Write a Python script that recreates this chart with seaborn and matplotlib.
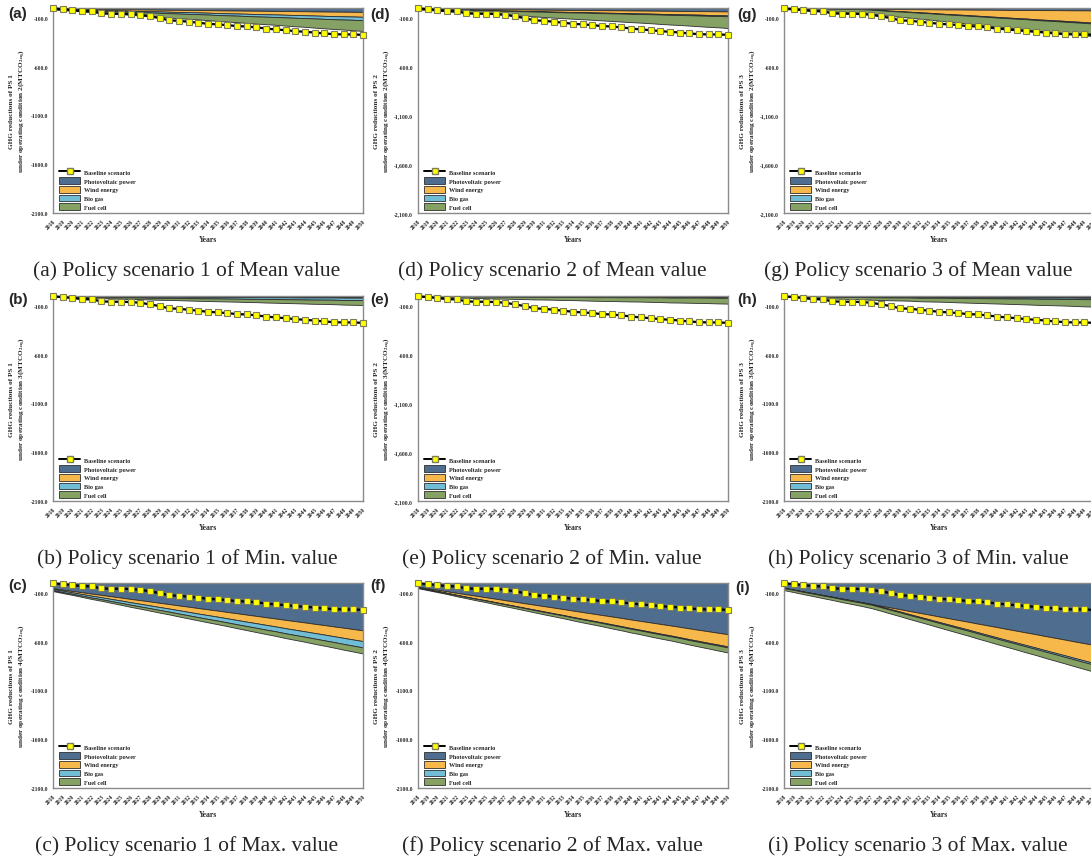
import numpy as np
import matplotlib
matplotlib.use("Agg")
import matplotlib.pyplot as plt
import seaborn as sns
from matplotlib.lines import Line2D
from matplotlib.patches import Patch

# Years on the x axis
years = list(range(2018, 2051))

# Baseline scenario (same in every panel)
baseline = [-3, -11, -21, -32, -35, -55, -59, -59, -62, -69, -86, -103, -127, -131, -141, -151, -162,
            -168, -175, -186, -189, -199, -210, -220, -227, -237, -244, -251, -261, -268, -271, -271, -275]

# (a) PS1 mean, condition 2
a_pv = [5, 6, 7, 8, 9, 10, 12, 13, 14, 15, 16, 17, 18, 19, 20, 21, 22, 24, 25, 26, 27, 28, 29, 30, 31, 32, 33, 35, 36, 37, 38, 39, 40]
a_wind = [2, 4, 5, 6, 8, 10, 11, 12, 14, 16, 17, 18, 20, 22, 23, 24, 26, 28, 29, 30, 32, 34, 35, 36, 38, 40, 41, 42, 44, 46, 47, 48, 50]
a_bio = [3, 4, 5, 6, 7, 8, 9, 10, 11, 12, 13, 14, 15, 16, 17, 18, 19, 20, 21, 22, 23, 24, 25, 26, 27, 28, 29, 30, 31, 32, 33, 34, 35]
a_fuel = [5, 8, 12, 15, 18, 21, 25, 28, 31, 35, 38, 41, 44, 48, 51, 54, 57, 61, 64, 67, 71, 74, 77, 80, 84, 87, 90, 94, 97, 100, 103, 107, 110]

# (b) PS1 min, condition 3
b_pv = [2, 2, 3, 3, 3, 3, 4, 4, 4, 4, 5, 5, 5, 5, 6, 6, 6, 6, 7, 7, 7, 7, 8, 8, 8, 8, 9, 9, 9, 9, 10, 10, 10]
b_wind = [1, 1, 1, 1, 1, 2, 2, 2, 2, 2, 3, 3, 3, 3, 3, 4, 4, 4, 4, 4, 5, 5, 5, 5, 5, 6, 6, 6, 6, 6, 7, 7, 7]
b_bio = [3, 4, 4, 5, 6, 6, 7, 8, 9, 9, 10, 11, 11, 12, 13, 13, 14, 15, 15, 16, 17, 17, 18, 19, 20, 20, 21, 22, 22, 23, 24, 24, 25]
b_fuel = [4, 5, 7, 8, 10, 11, 13, 14, 16, 17, 18, 20, 21, 23, 24, 26, 27, 29, 30, 31, 33, 34, 36, 37, 39, 40, 41, 43, 44, 46, 47, 49, 50]

# (c) PS1 max, condition 4
c_pv = [55, 68, 82, 95, 109, 122, 136, 149, 163, 176, 189, 203, 216, 230, 243, 257, 270, 283, 297, 310, 324, 337, 351, 364, 378, 391, 404, 418, 431, 445, 458, 472, 485]
c_wind = [8, 11, 14, 18, 21, 24, 27, 30, 34, 37, 40, 43, 46, 49, 53, 56, 59, 62, 65, 69, 72, 75, 78, 81, 85, 88, 91, 94, 97, 100, 104, 107, 110]
c_bio = [12, 14, 15, 17, 19, 20, 22, 24, 25, 27, 29, 30, 32, 34, 35, 37, 39, 40, 42, 44, 45, 47, 49, 50, 52, 54, 55, 57, 59, 60, 62, 63, 65]
c_fuel = [8, 10, 11, 13, 15, 16, 18, 20, 22, 23, 25, 27, 28, 30, 32, 33, 35, 37, 38, 40, 42, 44, 45, 47, 49, 50, 52, 54, 55, 57, 59, 60, 62]

# (d) PS2 mean, condition 2
d_pv = [4, 5, 6, 7, 8, 9, 10, 11, 12, 13, 14, 15, 16, 17, 18, 19, 20, 20, 21, 22, 23, 24, 25, 26, 27, 28, 29, 30, 31, 32, 33, 34, 35]
d_wind = [2, 3, 4, 6, 7, 8, 9, 10, 12, 13, 14, 15, 16, 17, 19, 20, 21, 22, 23, 25, 26, 27, 28, 29, 30, 32, 33, 34, 35, 36, 38, 39, 40]
d_bio = [1, 1, 2, 2, 2, 2, 3, 3, 3, 3, 4, 4, 4, 4, 5, 5, 5, 5, 6, 6, 6, 6, 7, 7, 7, 7, 8, 8, 8, 9, 9, 9, 10]
d_fuel = [8, 12, 15, 18, 22, 26, 29, 32, 36, 40, 43, 46, 50, 54, 57, 60, 64, 68, 71, 74, 78, 82, 85, 88, 92, 96, 99, 102, 106, 110, 113, 116, 120]

# (e) PS2 min, condition 3
e_pv = [2, 2, 2, 2, 2, 3, 3, 3, 3, 3, 4, 4, 4, 4, 4, 5, 5, 5, 5, 5, 5, 6, 6, 6, 6, 6, 7, 7, 7, 7, 7, 8, 8]
e_wind = [1, 1, 1, 1, 1, 1, 2, 2, 2, 2, 2, 2, 3, 3, 3, 3, 3, 3, 4, 4, 4, 4, 4, 4, 5, 5, 5, 5, 5, 5, 6, 6, 6]
e_bio = [1, 1, 1, 1, 1, 1, 1, 1, 2, 2, 2, 2, 2, 2, 2, 2, 2, 3, 3, 3, 3, 3, 3, 3, 3, 3, 4, 4, 4, 4, 4, 4, 4]
e_fuel = [5, 7, 8, 10, 12, 14, 15, 17, 19, 20, 22, 24, 26, 27, 29, 31, 32, 34, 36, 38, 39, 41, 43, 44, 46, 48, 50, 51, 53, 55, 56, 58, 60]

# (f) PS2 max, condition 4
f_pv = [40, 55, 70, 85, 101, 116, 131, 146, 161, 176, 192, 207, 222, 237, 252, 267, 283, 298, 313, 328, 343, 358, 374, 389, 404, 419, 434, 449, 465, 480, 495, 510, 525]
f_wind = [5, 9, 12, 16, 20, 24, 28, 31, 35, 39, 42, 46, 50, 54, 58, 61, 65, 69, 72, 76, 80, 84, 88, 91, 95, 99, 102, 106, 110, 114, 118, 121, 125]
f_bio = [2, 2, 2, 2, 3, 3, 3, 3, 4, 4, 4, 4, 5, 5, 5, 5, 6, 6, 6, 6, 7, 7, 7, 7, 8, 8, 8, 8, 9, 9, 9, 10, 10]
f_fuel = [6, 7, 9, 10, 12, 13, 15, 16, 18, 19, 20, 22, 23, 25, 26, 28, 29, 31, 32, 33, 35, 36, 38, 39, 41, 42, 43, 45, 46, 48, 49, 51, 52]

# (g) PS3 mean, condition 2
g_pv = [3, 4, 4, 5, 6, 6, 7, 8, 9, 9, 10, 11, 11, 12, 13, 13, 14, 15, 15, 16, 17, 17, 18, 19, 20, 20, 21, 22, 22, 23, 24, 24, 25]
g_wind = [0, 0, 0, 0, 0, 0, 0, 0, 0, 5, 10, 16, 21, 26, 31, 36, 42, 47, 52, 57, 62, 68, 73, 78, 83, 88, 94, 99, 104, 109, 114, 120, 125]
g_bio = [1, 1, 2, 2, 2, 2, 3, 3, 3, 3, 4, 4, 4, 4, 5, 5, 5, 5, 6, 6, 6, 6, 7, 7, 7, 7, 8, 8, 8, 9, 9, 9, 10]
g_fuel = [8, 12, 16, 19, 23, 27, 31, 35, 38, 42, 46, 50, 54, 57, 61, 65, 69, 73, 76, 80, 84, 88, 92, 95, 99, 103, 107, 111, 114, 118, 122, 126, 130]

# (h) PS3 min, condition 3
h_pv = [2, 2, 3, 3, 3, 3, 4, 4, 4, 4, 5, 5, 5, 5, 6, 6, 6, 6, 7, 7, 7, 7, 8, 8, 8, 8, 9, 9, 9, 9, 10, 10, 10]
h_wind = [1, 1, 1, 1, 1, 2, 2, 2, 2, 3, 3, 3, 3, 3, 4, 4, 4, 4, 5, 5, 5, 5, 5, 6, 6, 6, 6, 7, 7, 7, 7, 8, 8]
h_bio = [2, 2, 3, 3, 4, 4, 4, 5, 5, 6, 6, 7, 7, 7, 8, 8, 8, 9, 9, 10, 10, 11, 11, 11, 12, 12, 13, 13, 13, 14, 14, 15, 15]
h_fuel = [5, 7, 9, 12, 14, 16, 18, 20, 22, 25, 27, 29, 31, 33, 36, 38, 40, 42, 44, 46, 49, 51, 53, 55, 57, 60, 62, 64, 66, 68, 71, 73, 75]

# (i) PS3 max, condition 4
i_pv = [50, 68, 87, 105, 123, 141, 160, 178, 196, 215, 233, 251, 269, 288, 306, 324, 343, 361, 379, 397, 416, 434, 452, 471, 489, 507, 525, 544, 562, 580, 599, 617, 635]
i_wind = [0, 0, 0, 0, 0, 0, 0, 0, 0, 0, 8, 16, 24, 32, 40, 48, 56, 64, 72, 80, 88, 97, 105, 113, 121, 129, 137, 145, 153, 161, 169, 177, 185]
i_bio = [3, 3, 4, 4, 5, 5, 6, 6, 6, 7, 7, 8, 8, 9, 9, 10, 10, 10, 11, 11, 12, 12, 13, 13, 13, 14, 14, 15, 15, 16, 16, 17, 17]
i_fuel = [20, 22, 23, 25, 27, 28, 30, 31, 33, 35, 36, 38, 40, 41, 43, 44, 46, 48, 49, 51, 53, 54, 56, 57, 59, 61, 62, 64, 66, 67, 69, 70, 72]

tech_names = ["Photovoltaic power", "Wind energy", "Bio gas", "Fuel cell"]
tech_colors = ["#4f6d8f", "#f7b84b", "#72bdd6", "#85a164"]
edge = "#2e2e2e"

yticks = [-100, -600, -1100, -1600, -2100]
plain_labels = ["-100.0", "-600.0", "-1100.0", "-1600.0", "-2100.0"]
comma_labels = ["-100.0", "-600.0", "-1,100.0", "-1,600.0", "-2,100.0"]

panels = {
    "a": (a_pv, a_wind, a_bio, a_fuel),
    "b": (b_pv, b_wind, b_bio, b_fuel),
    "c": (c_pv, c_wind, c_bio, c_fuel),
    "d": (d_pv, d_wind, d_bio, d_fuel),
    "e": (e_pv, e_wind, e_bio, e_fuel),
    "f": (f_pv, f_wind, f_bio, f_fuel),
    "g": (g_pv, g_wind, g_bio, g_fuel),
    "h": (h_pv, h_wind, h_bio, h_fuel),
    "i": (i_pv, i_wind, i_bio, i_fuel),
}
stat_names = ["Mean", "Min.", "Max."]
comma_panels = ["d", "e", "g"]

sns.set_style("white")
plt.rcParams["font.family"] = ["Liberation Serif", "DejaVu Serif"]
plt.rcParams["mathtext.fontset"] = "stix"

W, H = 1091, 862
fig = plt.figure(figsize=(W / 100, H / 100), dpi=100)

col_left = [53, 418, 784]
row_top = [9, 297, 584]
ax_w, ax_h = 310, 205
letter_pos = {"a": (18, 14), "b": (18, 300), "c": (18, 586), "d": (380, 15), "e": (380, 300),
              "f": (378, 586), "g": (747, 15), "h": (747, 300), "i": (743, 588)}

for col in range(3):
    for row in range(3):
        key = "abcdefghi"[col * 3 + row]
        left, top = col_left[col], row_top[row]
        ax = fig.add_axes([left / W, (H - top - ax_h) / H, ax_w / W, ax_h / H])

        # stacked reduction areas, going down from zero
        lower = np.zeros(len(years))
        for vals, colr in zip(panels[key], tech_colors):
            upper = lower
            lower = lower - np.array(vals)
            ax.fill_between(years, upper, lower, facecolor=colr, edgecolor=edge, linewidth=0.6)

        sns.lineplot(x=years, y=baseline, ax=ax, color="black", linewidth=1.6, marker="s",
                     markersize=5, markerfacecolor="#ffff00", markeredgecolor="#7d7d5a",
                     markeredgewidth=0.8, clip_on=False, zorder=5, legend=False)

        ax.set_xlim(2018, 2050)
        ax.set_ylim(-2100, 0)
        ax.set_xticks(years)
        ax.set_xticklabels([str(y) for y in years], rotation=45, fontsize=4, fontweight="bold",
                           ha="right", rotation_mode="anchor")
        ax.set_yticks(yticks)
        ax.set_yticklabels(comma_labels if key in comma_panels else plain_labels,
                           fontsize=4, fontweight="bold")
        ax.tick_params(axis="both", length=2, width=0.6, pad=1.5, colors="#222222")
        for sp in ax.spines.values():
            sp.set_color("#8a8a8a")
            sp.set_linewidth(1.0)

        handles = [Line2D([0], [0], color="black", lw=1.4, marker="s", markersize=5,
                          markerfacecolor="#ffff00", markeredgecolor="#7d7d5a")]
        handles += [Patch(facecolor=c, edgecolor=edge, linewidth=0.6) for c in tech_colors]
        ax.legend(handles, ["Baseline scenario"] + tech_names, loc="lower left",
                  bbox_to_anchor=(6 / ax_w, 3 / ax_h), borderaxespad=0, borderpad=0,
                  frameon=False, prop={"size": 4.5, "weight": "bold"}, handlelength=3.4,
                  handleheight=1.3, labelspacing=0.3, handletextpad=0.6)

        # y label, x label, caption, panel letter
        ylab = ("GHG reductions of PS %d\nunder operating condition %d(MTCO$_{\\mathbf{2eq}}$)"
                % (col + 1, row + 2))
        fig.text((left - 35) / W, 1 - (top + ax_h / 2) / H, ylab, rotation=90, ha="center",
                 va="center", fontsize=5.2, fontweight="bold", multialignment="center")
        fig.text((left + ax_w / 2) / W, 1 - (top + 231) / H, "Years", ha="center", va="center",
                 fontsize=5.5, fontweight="bold")
        fig.text((left + 134) / W, 1 - (top + 262) / H,
                 "(%s) Policy scenario %d of %s value" % (key, col + 1, stat_names[row]),
                 ha="center", va="center", fontsize=15.5)
        lx, ly = letter_pos[key]
        fig.text(lx / W, 1 - ly / H, "(%s)" % key, ha="center", va="center", fontsize=11,
                 fontweight="bold", family=["Liberation Sans", "DejaVu Sans"])

fig.savefig("out.png", dpi=100)
